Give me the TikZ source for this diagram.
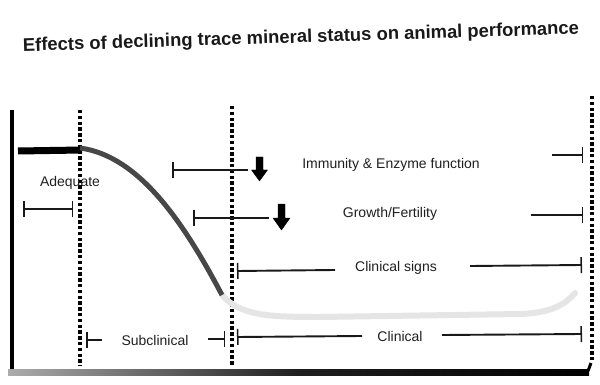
\documentclass[tikz,border=0pt]{standalone}
\usepackage{fontspec}
\setmainfont{Liberation Sans}
\usetikzlibrary{arrows.meta}
\tikzset{
  lbl/.style={font=\fontsize{14}{16}\selectfont, text=black!88, inner sep=0pt},
  barline/.style={line width=1.9pt, black!90},
  tickL/.style={{Bar[width=16pt,line width=1.5pt]}-},
  tickR/.style={-{Bar[width=16pt,line width=1.5pt]}},
  tickLR/.style={{Bar[width=16pt,line width=1.5pt]}-{Bar[width=16pt,line width=1.5pt]}},
  dotline/.style={line width=3.6pt, dash pattern=on 3.4pt off 2.4pt, black},
  downarrow/.style={fill=black}
}
\begin{document}
\begin{tikzpicture}[x=1pt,y=-1pt]
\useasboundingbox (0,0) rectangle (600,385);
% title
\node[font=\bfseries\fontsize{18.4}{20}\selectfont, text=black!90, rotate=1.8, inner sep=0pt] (title) at (301,38) {Effects of declining trace mineral status on animal performance};
% axes
\coordinate (ytop) at (12,110);
\coordinate (ybot) at (12,374);
\draw[line width=4pt] (ytop) -- (ybot);
\shade[left color=gray!65, right color=black, middle color=black!88] (8,369) rectangle (589,375);
\coordinate (xr1) at (588,371);
\coordinate (xr2) at (591,363);
\draw[line width=3pt] (xr1) -- (xr2);
% dotted lines
\coordinate (d1t) at (80,110); \coordinate (d1b) at (80,366);
\coordinate (d2t) at (232,106); \coordinate (d2b) at (232,366);
\coordinate (d3t) at (592,96); \coordinate (d3b) at (592,362);
\draw[dotline] (d1t) -- (d1b);
\draw[dotline] (d2t) -- (d2b);
\draw[dotline] (d3t) -- (d3b);
% performance curve
\coordinate (c0) at (18,151);
\coordinate (c1) at (82,150);
\coordinate (c2) at (222,295);
\coordinate (c3) at (575,293);
\draw[line width=7pt] (c0) -- (c1);
\draw[line width=6pt, gray!20, line cap=round] (c2) .. controls (240,316) and (270,317) .. (320,317) -- (520,314) .. controls (550,313) and (565,305) .. (c3);
\draw[line width=5pt, black!72] (80,148) .. controls (140,156) and (185,225) .. (c2);
% Adequate
\node[lbl] (adq) at (70,183) {Adequate};
\coordinate (a1) at (23,209); \coordinate (a2) at (73,209);
\draw[barline, tickLR] (a1) -- (a2);
% Immunity
\node[lbl] (imm) at (391,165) {Immunity \& Enzyme function};
\coordinate (i1) at (172,170); \coordinate (i2) at (248,170);
\draw[barline, tickL] (i1) -- (i2);
\coordinate (i3) at (552,155); \coordinate (i4) at (583,155);
\draw[barline, tickR] (i3) -- (i4);
\draw[downarrow] (256,157) -- (263,157) -- (263,170) -- (267.5,170) -- (259.5,181) -- (251.5,170) -- (256,170) -- cycle;
% Growth
\node[lbl] (gro) at (390,214) {Growth/Fertility};
\coordinate (g1) at (193,218); \coordinate (g2) at (269,218);
\draw[barline, tickL] (g1) -- (g2);
\coordinate (g3) at (531,215); \coordinate (g4) at (583,215);
\draw[barline, tickR] (g3) -- (g4);
\draw[downarrow] (278,204) -- (285,204) -- (285,218) -- (290,218) -- (281.5,230) -- (273,218) -- (278,218) -- cycle;
% Clinical signs
\node[lbl] (cs) at (396,268) {Clinical signs};
\coordinate (s1) at (237,271); \coordinate (s2) at (335,270);
\draw[barline, tickL] (s1) -- (s2);
\coordinate (s3) at (470,266); \coordinate (s4) at (582,265);
\draw[barline, tickR] (s3) -- (s4);
% Subclinical
\node[lbl] (sub) at (155,340) {Subclinical};
\coordinate (u1) at (86,340); \coordinate (u2) at (102,340);
\draw[barline, tickL] (u1) -- (u2);
\coordinate (u3) at (208,339); \coordinate (u4) at (225,339);
\draw[barline, tickR] (u3) -- (u4);
% Clinical
\node[lbl] (cli) at (400,336) {Clinical};
\coordinate (k1) at (237,337); \coordinate (k2) at (362,336);
\draw[barline, tickL] (k1) -- (k2);
\coordinate (k3) at (442,335); \coordinate (k4) at (582,334);
\draw[barline, tickR] (k3) -- (k4);
\end{tikzpicture}
\end{document}
